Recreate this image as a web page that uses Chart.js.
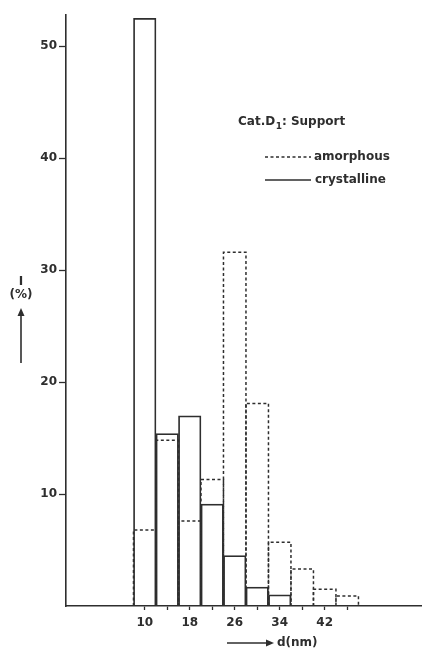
<!DOCTYPE html>
<html><head><meta charset="utf-8">
<script src="https://cdn.jsdelivr.net/npm/chart.js@4/dist/chart.umd.min.js"></script>
<style>html,body{margin:0;padding:0;background:#fff}#wrap{width:422px;height:649px;position:relative}</style>
</head><body><div id="wrap"><canvas id="c" width="422" height="649"></canvas></div>
<script>
// Particle size distribution, d (nm), 4 nm bins identified by their centre
const binCentres  = [10, 14, 18, 22, 26, 30, 34, 38, 42, 46];
const amorphous   = [6.8, 14.8, 7.6, 11.3, 31.6, 18.1, 5.7, 3.3, 1.5, 0.9];
const crystalline = [52.5, 15.4, 17.0, 9.1, 4.5, 1.7, 1.0, null, null, null];
const xTickValues = [10, 14, 18, 22, 26, 30, 34, 38, 42, 46];
const xTickLabels = [10, 18, 26, 34, 42];
const yTickValues = [10, 20, 30, 40, 50];
const seriesNames = ['amorphous', 'crystalline'];
const titleMain = 'Cat.D';
const titleSub = '1';
const titleRest = ': Support';
const xTitle = 'd(nm)';
const yTitleTop = 'I';
const yTitleUnit = '(%)';

const INK = '#2e2e2e';
const FONT = '"DejaVu Sans", sans-serif';

const toPoints = vals => binCentres.map((x, i) => ({x: x, y: vals[i]}));

const dashedBars = {
  id: 'dashedBars',
  afterDatasetsDraw(chart) {
    const ctx = chart.ctx;
    chart.data.datasets.forEach((ds, di) => {
      if (!ds.dashOutline) return;
      const meta = chart.getDatasetMeta(di);
      ctx.save();
      ctx.strokeStyle = INK;
      ctx.lineWidth = 1.5;
      ctx.setLineDash([3, 2.5]);
      meta.data.forEach((el, i) => {
        if (ds.data[i].y == null) return;
        const p = el.getProps(['x', 'y', 'base', 'width'], true);
        const l = p.x - p.width / 2, r = p.x + p.width / 2;
        ctx.beginPath();
        ctx.moveTo(l, p.base);
        ctx.lineTo(l, p.y);
        ctx.lineTo(r, p.y);
        ctx.lineTo(r, p.base);
        ctx.stroke();
      });
      ctx.restore();
    });
  }
};

const annotations = {
  id: 'annotations',
  afterDraw(chart) {
    const ctx = chart.ctx;
    ctx.save();
    ctx.fillStyle = INK;
    ctx.strokeStyle = INK;
    ctx.textBaseline = 'middle';
    // legend title
    ctx.font = 'bold 12px ' + FONT;
    ctx.textAlign = 'left';
    let x = 238;
    ctx.fillText(titleMain, x, 122);
    x += ctx.measureText(titleMain).width + 0.5;
    ctx.font = 'bold 9px ' + FONT;
    ctx.fillText(titleSub, x, 127);
    x += ctx.measureText(titleSub).width;
    ctx.font = 'bold 12px ' + FONT;
    ctx.fillText(titleRest, x, 122);
    // legend entries
    ctx.lineWidth = 1.5;
    ctx.beginPath();
    ctx.setLineDash([3, 2.5]);
    ctx.moveTo(265, 157); ctx.lineTo(311, 157);
    ctx.stroke();
    ctx.setLineDash([]);
    ctx.beginPath();
    ctx.moveTo(265, 180); ctx.lineTo(311, 180);
    ctx.stroke();
    ctx.fillText(seriesNames[0], 314, 157);
    ctx.fillText(seriesNames[1], 315, 180);
    // y title
    ctx.textAlign = 'center';
    ctx.fillText(yTitleTop, 21, 282);
    ctx.fillText(yTitleUnit, 21, 295);
    ctx.lineWidth = 1.6;
    ctx.beginPath();
    ctx.moveTo(21, 363); ctx.lineTo(21, 314);
    ctx.stroke();
    ctx.beginPath();
    ctx.moveTo(21, 308); ctx.lineTo(17.5, 316); ctx.lineTo(24.5, 316); ctx.closePath();
    ctx.fill();
    // x title
    ctx.beginPath();
    ctx.moveTo(227, 643); ctx.lineTo(268, 643);
    ctx.stroke();
    ctx.beginPath();
    ctx.moveTo(274, 643); ctx.lineTo(266, 639.5); ctx.lineTo(266, 646.5); ctx.closePath();
    ctx.fill();
    ctx.textAlign = 'left';
    ctx.fillText(xTitle, 277, 643);
    ctx.restore();
  }
};

new Chart(document.getElementById('c'), {
  type: 'bar',
  data: {
    datasets: [
      {
        label: seriesNames[0],
        data: toPoints(amorphous),
        grouped: false,
        backgroundColor: 'rgba(0,0,0,0)',
        borderWidth: 0,
        dashOutline: true,
        barPercentage: 1,
        categoryPercentage: 1,
        order: 1
      },
      {
        label: seriesNames[1],
        data: toPoints(crystalline),
        grouped: false,
        backgroundColor: 'rgba(0,0,0,0)',
        borderColor: INK,
        borderWidth: 1.1,
        borderSkipped: 'start',
        barPercentage: 1,
        categoryPercentage: 1,
        order: 0
      }
    ]
  },
  options: {
    responsive: false,
    animation: false,
    devicePixelRatio: 1,
    layout: {padding: {top: 15, right: 0, bottom: 0, left: 0}},
    plugins: {legend: {display: false}, tooltip: {enabled: false}},
    scales: {
      x: {
        type: 'linear',
        offset: false,
        min: -4,
        max: 59.3,
        afterBuildTicks: s => { s.ticks = xTickValues.map(v => ({value: v})); },
        afterFit: s => { s.height = 43; },
        grid: {offset: false, drawOnChartArea: false, drawTicks: true, tickLength: 4, tickColor: INK, tickWidth: 1.3},
        border: {display: true, color: INK, width: 1.6},
        ticks: {
          autoSkip: false,
          maxRotation: 0,
          padding: 6,
          color: INK,
          font: {family: FONT, size: 12, weight: 'bold'},
          callback: v => xTickLabels.includes(v) ? String(v) : ''
        }
      },
      y: {
        min: 0,
        max: 52.8,
        afterBuildTicks: s => { s.ticks = yTickValues.map(v => ({value: v})); },
        afterFit: s => { s.width = 66; },
        grid: {drawOnChartArea: false, drawTicks: true, tickLength: 7, tickColor: INK, tickWidth: 1.3},
        border: {display: true, color: INK, width: 1.6},
        ticks: {
          padding: 2,
          color: INK,
          font: {family: FONT, size: 12, weight: 'bold'}
        }
      }
    }
  },
  plugins: [dashedBars, annotations]
});
</script>
</body></html>
